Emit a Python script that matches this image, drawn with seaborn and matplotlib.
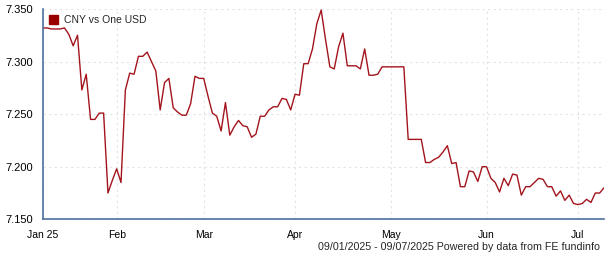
import matplotlib
matplotlib.use("Agg")
import matplotlib.pyplot as plt
from matplotlib.patches import Patch
import seaborn as sns
import pandas as pd

series_name = "CNY vs One USD"
footer = "09/01/2025 - 09/07/2025 Powered by data from FE fundinfo"

# one value per business day, 9 Jan 2025 .. 9 Jul 2025
cny_per_usd = [
    7.332, 7.332, 7.331, 7.331, 7.331, 7.332, 7.326, 7.315, 7.325, 7.273,
    7.288, 7.245, 7.245, 7.251, 7.251, 7.175, 7.187, 7.198, 7.185, 7.273,
    7.289, 7.288, 7.305, 7.305, 7.309, 7.300, 7.291, 7.254, 7.280, 7.284,
    7.256, 7.252, 7.249, 7.249, 7.260, 7.286, 7.284, 7.284, 7.267, 7.251,
    7.248, 7.234, 7.261, 7.230, 7.238, 7.244, 7.239, 7.238, 7.228, 7.231,
    7.248, 7.248, 7.254, 7.257, 7.257, 7.265, 7.264, 7.254, 7.269, 7.268,
    7.298, 7.298, 7.312, 7.336, 7.349, 7.321, 7.295, 7.293, 7.314, 7.327,
    7.296, 7.296, 7.296, 7.293, 7.312, 7.287, 7.287, 7.288, 7.295, 7.295,
    7.295, 7.295, 7.295, 7.295, 7.226, 7.226, 7.226, 7.226, 7.204, 7.204,
    7.207, 7.209, 7.214, 7.220, 7.203, 7.204, 7.181, 7.181, 7.196, 7.195,
    7.186, 7.200, 7.200, 7.189, 7.185, 7.176, 7.189, 7.182, 7.193, 7.192,
    7.173, 7.181, 7.181, 7.185, 7.189, 7.188, 7.181, 7.181, 7.172, 7.177,
    7.168, 7.173, 7.165, 7.164, 7.165, 7.169, 7.166, 7.175, 7.175, 7.180,
]
day_index = list(range(len(cny_per_usd)))

# month tick positions (business-day index) and labels
month_ticks = [0, 17, 37, 58, 80, 102, 123]
month_labels = ["Jan 25", "Feb", "Mar", "Apr", "May", "Jun", "Jul"]
y_ticks = [7.150, 7.200, 7.250, 7.300, 7.350]

df = pd.DataFrame({"day": day_index, "rate": cny_per_usd})

sns.set_style("white")
plt.rcParams["font.family"] = ["Liberation Sans", "DejaVu Sans"]

fig = plt.figure(figsize=(6.05, 2.6), dpi=100)
ax = fig.add_axes([42.7 / 605, 1 - 219.3 / 260, (604 - 42.7) / 605, (219.3 - 9) / 260])

line_color = "#a3141c"
sns.lineplot(data=df, x="day", y="rate", ax=ax, color=line_color, linewidth=1.0)

ax.set_xlim(0, len(cny_per_usd) - 1)
ax.set_ylim(7.150, 7.350)
ax.set_xticks(month_ticks)
ax.set_xticklabels(month_labels)
ax.set_yticks(y_ticks)
ax.set_yticklabels([f"{v:.3f}" for v in y_ticks])
ax.set_xlabel("")
ax.set_ylabel("")

ax.grid(True, color="#e3e3e3", linestyle=(0, (2, 3)), linewidth=0.8)
ax.set_axisbelow(True)
for s in ["top", "right"]:
    ax.spines[s].set_visible(False)
spine_color = "#4f6f9c"
for s in ["left", "bottom"]:
    ax.spines[s].set_color(spine_color)
    ax.spines[s].set_linewidth(1.2)

ax.tick_params(axis="both", colors="black", direction="out")
ax.tick_params(axis="x", labelsize=7.5, length=4, width=0.8, pad=4, color="black")
ax.tick_params(axis="y", labelsize=8, length=4, width=0.8, pad=3, color="black")

handle = Patch(facecolor="#990000", edgecolor="#990000")
ax.legend([handle], [series_name], loc="upper left", frameon=False,
          fontsize=7.5, handlelength=0.9, handleheight=0.9, handletextpad=0.5,
          borderaxespad=0.2, bbox_to_anchor=(0.0, 1.0))

fig.text(600 / 605, 1 - 247 / 260, footer, ha="right", va="center", fontsize=7.7)

fig.savefig("out.png", dpi=100)
